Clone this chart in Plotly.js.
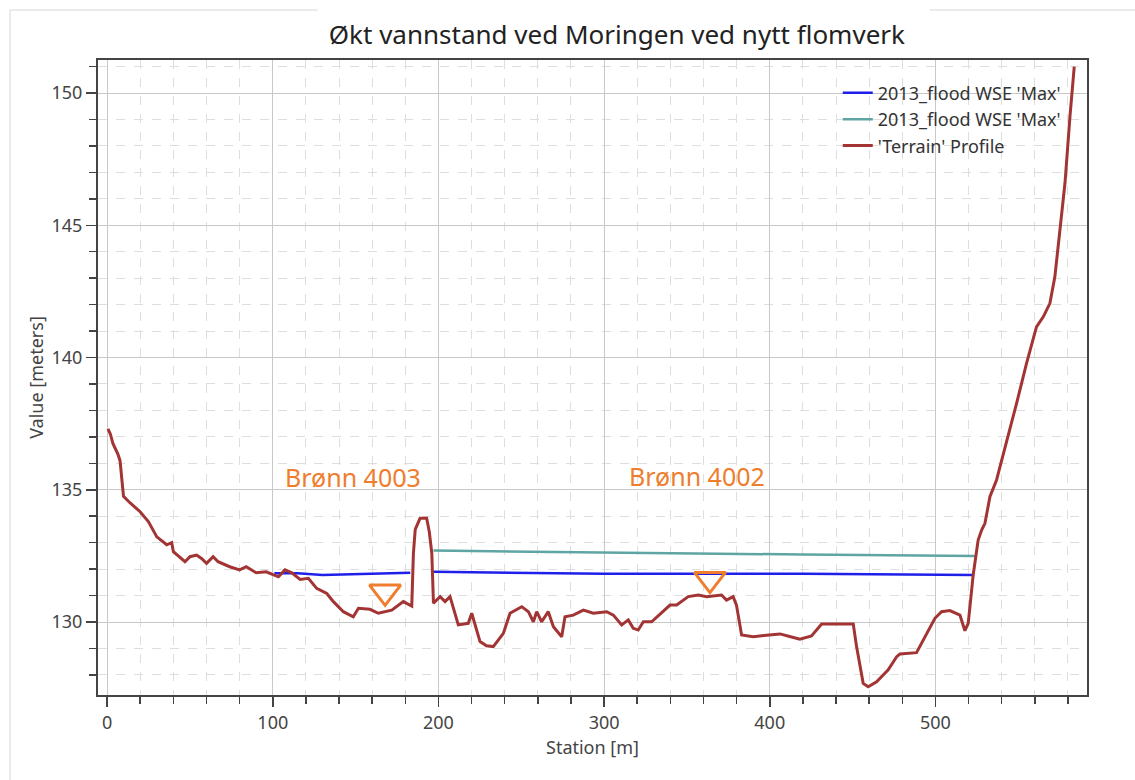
<!DOCTYPE html>
<html>
<head>
<meta charset="utf-8">
<script src="https://cdn.plot.ly/plotly-3.0.1.min.js"></script>
<style>html,body{margin:0;padding:0;background:#fff;} #chart{width:1135px;height:780px;}</style>
</head>
<body>
<div id="chart"></div>
<script>
// Terrain profile (station in m, elevation in m)
const terrainX = [0.5,2,3.5,4.8,6.5,7.8,9.9,13.9,19.9,24.9,30,36,39,40,47,50,54,57,60,64,67,74,80,84,90,96,103.4,107.4,111.5,116.5,121.5,126.5,132.6,136.6,142.6,148.6,151.7,158.7,163.7,171.8,178.8,183.9,184.9,186,188.9,192.9,194.5,196,197,201,204,207,212,218,220.1,225.1,229,233.1,239.2,243.2,250.3,254.3,257.3,259.3,262.3,266.3,269.4,274.4,276.4,281.4,287.5,293.5,301.6,305.6,310.6,314.6,317.6,320.6,323.7,328.7,335.7,339.8,343.8,350.8,356.9,361.9,370.9,373.9,377.9,379.9,383,390,398,406.2,412,418.2,425.2,431.3,450.4,452.4,456.4,459.4,464.5,471.5,476.6,478.6,488.6,491.6,495.7,499.7,503.7,508.7,514.8,517.8,519.8,522.8,525.8,527.9,529.9,532.9,536.9,542.9,549,555,561,565.1,569.1,572.1,575.1,578.2,581.2,583.8];
const terrainY = [137.3,137.1,136.75,136.6,136.35,136.1,134.75,134.5,134.17,133.8,133.22,132.92,133.0,132.66,132.28,132.47,132.53,132.4,132.22,132.47,132.28,132.09,131.97,132.09,131.86,131.9,131.71,131.97,131.86,131.61,131.65,131.27,131.08,130.77,130.39,130.2,130.52,130.48,130.33,130.45,130.77,130.6,132.6,133.5,133.92,133.92,133.4,132.6,130.71,130.96,130.77,130.96,129.89,129.95,130.33,129.26,129.1,129.07,129.57,130.33,130.58,130.39,130.01,130.39,130.01,130.39,129.82,129.44,130.2,130.26,130.45,130.33,130.39,130.26,129.89,130.08,129.76,129.7,130.01,130.01,130.39,130.64,130.64,130.96,131.02,130.96,131.02,130.83,130.96,130.64,129.51,129.44,129.5,129.55,129.45,129.35,129.47,129.92,129.92,129.07,127.68,127.55,127.74,128.19,128.69,128.79,128.84,129.19,129.63,130.14,130.39,130.43,130.26,129.67,129.95,131.78,133.1,133.48,133.73,134.74,135.37,136.76,138.27,139.78,141.16,141.54,142.05,143.05,144.82,146.59,149.1,151.0];

// Water surface, existing (blue)
const wse1X = [101,115,130,150,183,190,197,300,420,523];
const wse1Y = [131.84,131.84,131.78,131.82,131.86,null,131.90,131.82,131.82,131.78];

// Water surface, new flood wall (teal)
const wse2X = [197,300,420,524];
const wse2Y = [132.70,132.62,132.55,132.50];

// Wells
const wellX = [167.8,363.9];
const wellY = [131.14,131.62];
const wellLabels = ["Brønn 4003","Brønn 4002"];
const wellLabelX = [148.5,356];
const wellLabelY = [135.48,135.52];

const legendNames = ["2013_flood WSE 'Max'","2013_flood WSE 'Max'","'Terrain' Profile"];

const orange = '#EE7E2E';
const font = 'Noto Sans, Open Sans, DejaVu Sans, sans-serif';

const traces = [
  {x: wse1X, y: wse1Y, type:'scatter', mode:'lines', name: legendNames[0],
   line:{color:'#1F1FEA', width:2.5}, connectgaps:false},
  {x: wse2X, y: wse2Y, type:'scatter', mode:'lines', name: legendNames[1],
   line:{color:'#5EA5A3', width:2.5}},
  {x: terrainX, y: terrainY, type:'scatter', mode:'lines', name: legendNames[2],
   line:{color:'#A33434', width:3}},
  {x: wellX, y: wellY, type:'scatter', mode:'markers', showlegend:false,
   marker:{symbol:'triangle-down-open', size:27, color:orange, line:{color:orange, width:3}}}
];

const annotations = wellLabels.map((t,i)=>({
  x: wellLabelX[i], y: wellLabelY[i], xref:'x', yref:'y', text:t, showarrow:false,
  font:{family:font, size:25, color:orange}
}));

const layout = {
  width:1135, height:780,
  paper_bgcolor:'#ffffff', plot_bgcolor:'#ffffff',
  margin:{l:98, r:48, t:60, b:85},
  font:{family:font, color:'#333'},
  title:{text:'Økt vannstand ved Moringen ved nytt flomverk', x:0.5435, xanchor:'center', y:0.955, yanchor:'middle',
         font:{family:font, size:26, color:'#222'}},
  showlegend:true,
  legend:{x:0.748, y:0.977, xanchor:'left', yanchor:'top', bgcolor:'rgba(0,0,0,0)',
          font:{family:font, size:18, color:'#333'}, itemwidth:30, tracegroupgap:0},
  xaxis:{range:[-5.5,591.5], dtick:100, tick0:0, showgrid:true, gridcolor:'#c8c8c8', gridwidth:1,
         ticks:'outside', ticklen:10, tickcolor:'#444', tickwidth:1.5,
         showline:true, linecolor:'#444', linewidth:2, mirror:true, zeroline:false,
         tickfont:{family:font, size:18, color:'#444'},
         title:{text:'Station [m]', font:{family:font, size:18, color:'#444'}, standoff:9},
         minor:{dtick:20, tick0:0, showgrid:true, gridcolor:'#dedede', griddash:'dash', gridwidth:1,
                ticks:'outside', ticklen:7, tickcolor:'#444', tickwidth:1.5}},
  yaxis:{range:[127.24,151.25], dtick:5, tick0:130, showgrid:true, gridcolor:'#c8c8c8', gridwidth:1,
         ticks:'outside', ticklen:10, tickcolor:'#444', tickwidth:1.5,
         showline:true, linecolor:'#444', linewidth:2, mirror:true, zeroline:false,
         tickfont:{family:font, size:18, color:'#444'},
         title:{text:'Value [meters]', font:{family:font, size:18, color:'#444'}, standoff:3},
         minor:{dtick:1, tick0:130, showgrid:true, gridcolor:'#dedede', griddash:'dash', gridwidth:1,
                ticks:'outside', ticklen:7, tickcolor:'#444', tickwidth:1.5}},
  annotations: annotations,
  shapes:[
    {type:'line', xref:'paper', yref:'paper', x0:-0.089, x1:-0.089, y0:-0.134, y1:1.0787, line:{color:'#e4e4e4', width:1.5}},
    {type:'line', xref:'paper', yref:'paper', x0:-0.089, x1:0.222, y0:1.0787, y1:1.0787, line:{color:'#e4e4e4', width:1.5}},
    {type:'line', xref:'paper', yref:'paper', x0:0.841, x1:1.05, y0:1.0787, y1:1.0787, line:{color:'#e4e4e4', width:1.5}}
  ]
};

Plotly.newPlot('chart', traces, layout, {displayModeBar:false, staticPlot:true});
</script>
</body>
</html>
